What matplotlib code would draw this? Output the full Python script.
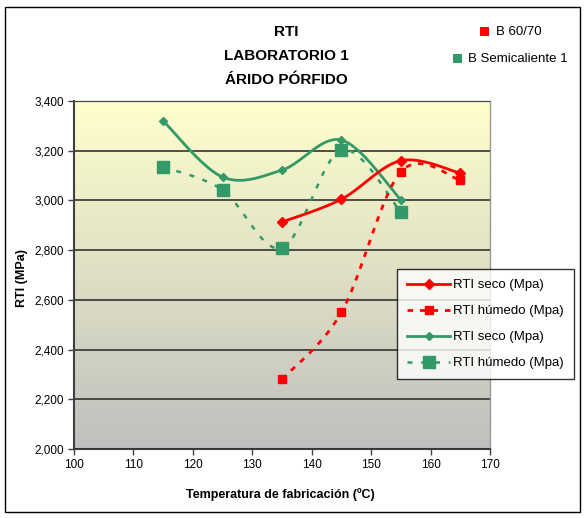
import matplotlib

matplotlib.use("Agg")
import matplotlib.pyplot as plt
import matplotlib.ticker as ticker
import numpy as np
from matplotlib.lines import Line2D
from matplotlib.patches import Rectangle

plt.rcParams["font.family"] = ["Liberation Sans", "DejaVu Sans"]

# --- Data ---
temp_b6070 = [135, 145, 155, 165]
seco_b6070 = [2913, 3005, 3160, 3110]
humedo_b6070 = [2280, 2550, 3115, 3082]

temp_semi = [115, 125, 135, 145, 155]
seco_semi = [3320, 3094, 3122, 3243, 3002]
humedo_semi = [3135, 3042, 2809, 3203, 2953]

title_lines = ["RTI", "LABORATORIO 1", "ÁRIDO PÓRFIDO"]
series_labels = ["RTI seco (Mpa)", "RTI húmedo (Mpa)", "RTI seco (Mpa)", "RTI húmedo (Mpa)"]
group_labels = ["B 60/70", "B Semicaliente 1"]

RED = "#FF0000"
GREEN = "#339966"
W, H = 585, 518


def fx(px):
    return px / W


def fy(py):
    return 1 - py / H


def excel_smooth(xs, ys, n=40):
    """Bezier smoothing like a spreadsheet 'smoothed line'."""
    p = np.column_stack([xs, ys]).astype(float)
    out = [p[0]]
    for i in range(len(p) - 1):
        p0 = p[i - 1] if i > 0 else p[i]
        p1, p2 = p[i], p[i + 1]
        p3 = p[i + 2] if i + 2 < len(p) else p[i + 1]
        c1 = p1 + (p2 - p0) / 6
        c2 = p2 - (p3 - p1) / 6
        t = np.linspace(0, 1, n)[1:, None]
        seg = ((1 - t) ** 3) * p1 + 3 * ((1 - t) ** 2) * t * c1 + 3 * (1 - t) * t**2 * c2 + t**3 * p2
        out.extend(seg)
    out = np.array(out)
    return out[:, 0], out[:, 1]


fig = plt.figure(figsize=(5.85, 5.18), dpi=100)
fig.patches.append(Rectangle((fx(5), fy(512)), 575 / W, 505 / H, transform=fig.transFigure,
                             fill=False, edgecolor="black", linewidth=1.0))

ax = fig.add_axes([fx(74), fy(449), 416 / W, 348 / H])
ax.set_xlim(100, 170)
ax.set_ylim(2000, 3400)

# gradient fill of the plot area, pale yellow to grey
grad = np.linspace(0, 1, 256)[:, None]
top = np.array([1.0, 1.0, 0.80])
bottom = np.array([0.75, 0.75, 0.75])
img = top[None, None, :] * (1 - grad[:, :, None]) + bottom[None, None, :] * grad[:, :, None]
ax.imshow(img, extent=(100, 170, 2000, 3400), aspect="auto", zorder=0, origin="upper")

ax.yaxis.set_major_locator(ticker.MultipleLocator(200))
ax.xaxis.set_major_locator(ticker.MultipleLocator(10))
ax.yaxis.set_major_formatter(ticker.FuncFormatter(lambda v, _: f"{v:,.0f}"))
ax.grid(axis="y", color="#333333", linewidth=1.2, zorder=1)
ax.set_axisbelow(False)

for side in ("top", "right"):
    ax.spines[side].set_color("#999999")
    ax.spines[side].set_linewidth(1.0)
for side in ("left", "bottom"):
    ax.spines[side].set_color("#404040")
    ax.spines[side].set_linewidth(1.5)
ax.tick_params(direction="out", length=4, width=1, color="#404040", labelsize=8.5, pad=3)

# series
sx, sy = excel_smooth(temp_b6070, seco_b6070)
ax.plot(sx, sy, color=RED, linewidth=2, zorder=4)
ax.plot(temp_b6070, seco_b6070, linestyle="none", marker="D", markersize=5, color=RED, zorder=5)

hx, hy = excel_smooth(temp_b6070, humedo_b6070)
ax.plot(hx, hy, color=RED, linewidth=2, linestyle=(0, (2, 2.5)), zorder=4)
ax.plot(temp_b6070, humedo_b6070, linestyle="none", marker="s", markersize=5.5, color=RED, zorder=5)

sx, sy = excel_smooth(temp_semi, seco_semi)
ax.plot(sx, sy, color=GREEN, linewidth=2, zorder=3)
ax.plot(temp_semi, seco_semi, linestyle="none", marker="D", markersize=4.5, color=GREEN, zorder=5)

hx, hy = excel_smooth(temp_semi, humedo_semi)
ax.plot(hx, hy, color=GREEN, linewidth=1.8, linestyle=(0, (2, 3.5)), zorder=3)
ax.plot(temp_semi, humedo_semi, linestyle="none", marker="s", markersize=9, color=GREEN, zorder=5)

fig.text(fx(280), fy(495), "Temperatura de fabricación (ºC)", ha="center", va="center",
         fontsize=9, fontweight="bold")
fig.text(fx(22), fy(278), "RTI (MPa)", ha="center", va="center", rotation=90,
         fontsize=9, fontweight="bold")

# series legend
handles = [
    Line2D([], [], color=RED, linewidth=2, marker="D", markersize=5),
    Line2D([], [], color=RED, linewidth=2, linestyle=(0, (2, 2.5)), marker="s", markersize=5.5),
    Line2D([], [], color=GREEN, linewidth=2, marker="D", markersize=4.5),
    Line2D([], [], color=GREEN, linewidth=1.8, linestyle=(0, (2, 3.5)), marker="s", markersize=9),
]
leg = fig.legend(handles, series_labels, loc="upper left", bbox_to_anchor=(fx(397), fy(269)),
                 frameon=True, fancybox=False, edgecolor="black", fontsize=9.5,
                 handlelength=3.3, handletextpad=0.2, labelspacing=1.05, borderpad=0.75,
                 borderaxespad=0)
leg.get_frame().set_linewidth(1.0)

# title
for text, py in zip(title_lines, [32, 56, 80]):
    fig.text(fx(286), fy(py), text, ha="center", va="center", fontsize=11, fontweight="bold")

# group legend
fig.patches.append(Rectangle((fx(480), fy(36)), 9 / W, 9 / H, transform=fig.transFigure,
                             facecolor=RED, edgecolor="none"))
fig.text(fx(496), fy(32), group_labels[0], ha="left", va="center", fontsize=9.5)
fig.patches.append(Rectangle((fx(453), fy(63)), 9 / W, 9 / H, transform=fig.transFigure,
                             facecolor=GREEN, edgecolor="none"))
fig.text(fx(468), fy(59), group_labels[1], ha="left", va="center", fontsize=9.5)

fig.savefig("out.png", facecolor="white")
